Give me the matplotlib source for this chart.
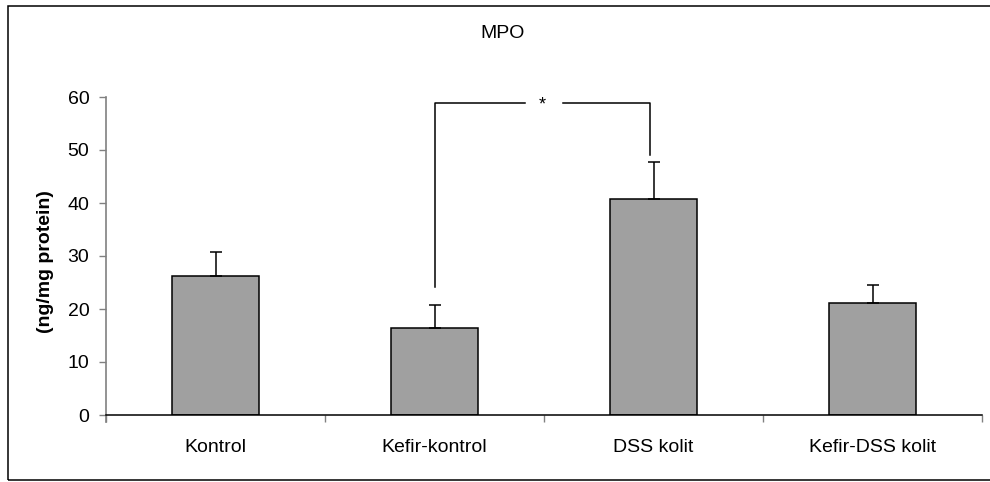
import matplotlib
matplotlib.use("Agg")
import matplotlib.pyplot as plt
from matplotlib.patches import Rectangle
import numpy as np

plt.rcParams['font.family'] = ['Liberation Sans', 'DejaVu Sans']

categories = ["Kontrol", "Kefir-kontrol", "DSS kolit", "Kefir-DSS kolit"]
values = [26.2, 16.5, 40.7, 21.1]
errors = [4.6, 4.2, 7.1, 3.4]
title = "MPO"
ylabel = "(ng/mg protein)"
yticks = [0, 10, 20, 30, 40, 50, 60]

# significance bracket (data units)
sig_pair = (1, 2)
sig_top = 58.8
sig_left_bottom = 24.2
sig_right_bottom = 49.1
sig_label = "*"

W, H = 990, 482
fig = plt.figure(figsize=(W / 100, H / 100), dpi=100)
ax = fig.add_axes([106 / W, 1 - 415 / H, 876 / W, 318 / H])

x = np.arange(len(categories))
ax.bar(x, values, width=0.4, color="#A0A0A0", edgecolor="black", linewidth=1.1, zorder=2)
ax.errorbar(x, values, yerr=[np.zeros(len(errors)), errors], fmt="none",
            ecolor="black", elinewidth=1.1, capsize=4.3, capthick=1.1, zorder=3)

ax.set_xlim(-0.5, len(categories) - 0.5)
ax.set_ylim(0, 60)
ax.set_yticks(yticks)
ax.set_yticklabels([str(v) for v in yticks])
ax.tick_params(axis="y", length=5, width=1, color="#808080", pad=7, labelsize=14)

ax.set_xticks(np.arange(len(categories) + 1) - 0.5)
ax.set_xticklabels([])
ax.tick_params(axis="x", which="major", length=5, width=1, color="#808080", direction="out")
ax.set_xticks(x, minor=True)
ax.set_xticklabels(categories, minor=True)
ax.tick_params(axis="x", which="minor", length=0, pad=17, labelsize=14)

for s in ["top", "right"]:
    ax.spines[s].set_visible(False)
ax.spines["left"].set_color("#808080")
ax.spines["left"].set_linewidth(1.2)
ax.spines["bottom"].set_color("black")
ax.spines["bottom"].set_linewidth(1.1)
ax.spines["left"].set_bounds(-1.3, 60)

# significance bracket
xl, xr = sig_pair
mid = (xl + xr) / 2
gap = 0.087
ax.plot([xl, xl, mid - gap], [sig_left_bottom, sig_top, sig_top], color="black", lw=1.1, clip_on=False)
ax.plot([mid + gap, xr - 0.015, xr - 0.015], [sig_top, sig_top, sig_right_bottom], color="black", lw=1.1, clip_on=False)
ax.text(mid - 0.01, sig_top - 0.4, sig_label, ha="center", va="center", fontsize=13, clip_on=False)

fig.text(503 / W, 1 - 33 / H, title, ha="center", va="center", fontsize=14)
fig.text(45 / W, 1 - 262 / H, ylabel, ha="center", va="center", rotation=90,
         fontsize=14, fontweight="bold")

fig.patches.append(Rectangle((8 / W, 2 / H), 1.2, 1 - 8 / H, transform=fig.transFigure,
                             fill=False, edgecolor="black", linewidth=1.1))

fig.savefig("out.png", dpi=100)
